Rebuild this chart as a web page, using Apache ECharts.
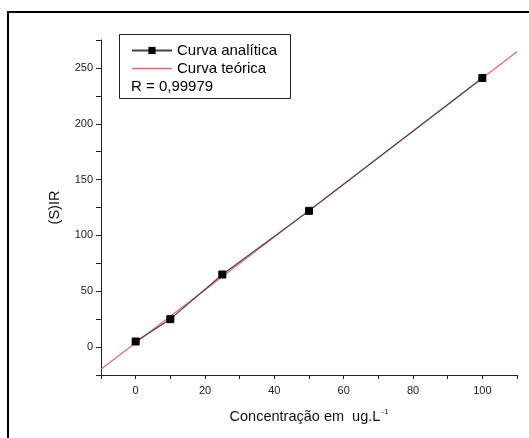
<!DOCTYPE html>
<html>
<head>
<meta charset="utf-8">
<script src="https://cdn.jsdelivr.net/npm/echarts@6/dist/echarts.min.js"></script>
<style>
  html, body { margin: 0; padding: 0; background: #fff; }
  #mychart { width: 529px; height: 438px; }
</style>
</head>
<body>
<div id="mychart"></div>
<script>
// pontos medidos (curva analítica)
var concentracao = [0, 10, 25, 50, 100];
var sinalIR = [5, 25, 65, 122, 241];
var retaX = [-10, 110];
var retaY = [-19.8, 264.5];
var rTexto = 'R = 0,99979';

var analitica = concentracao.map(function (x, i) { return [x, sinalIR[i]]; });
var teorica = retaX.map(function (x, i) { return [x, retaY[i]]; });

var fonte = '"Liberation Sans", Arial, sans-serif';
var myChart = echarts.init(document.getElementById('mychart'));

var option = {
  backgroundColor: '#fff',
  animation: false,
  grid: { left: 101, top: 40, right: 12, bottom: 63 },
  legend: {
    orient: 'vertical',
    left: 131,
    top: 42,
    itemWidth: 40,
    itemHeight: 9,
    itemGap: 1,
    padding: 0,
    textStyle: { fontFamily: fonte, fontSize: 15, color: '#000', lineHeight: 17 },
    data: [
      { name: 'Curva analítica' },
      { name: 'Curva teórica', itemStyle: { opacity: 0 }, lineStyle: { color: '#f26464', width: 1.5, opacity: 1 } }
    ]
  },
  xAxis: {
    type: 'value',
    min: -10,
    max: 110,
    interval: 10,
    name: '{a|Concentração em  ug.L}{s|-1}',
    nameLocation: 'middle',
    nameGap: 33,
    nameTextStyle: {
      rich: {
        a: { fontFamily: fonte, fontSize: 14.5, color: '#111' },
        s: { fontFamily: fonte, fontSize: 8, color: '#111', verticalAlign: 'top', padding: [0, 0, 9, 1] }
      }
    },
    splitLine: { show: false },
    axisLine: { onZero: false, lineStyle: { color: '#222', width: 1 } },
    axisTick: { length: 4, lineStyle: { color: '#222' } },
    axisLabel: {
      fontFamily: fonte, fontSize: 11, color: '#222', margin: 10,
      formatter: function (v) { return (v % 20 === 0 && v >= 0 && v <= 100) ? v : ''; }
    }
  },
  yAxis: {
    type: 'value',
    min: -25,
    max: 275,
    interval: 25,
    name: '(S)IR',
    nameLocation: 'middle',
    nameGap: 39,
    nameTextStyle: { fontFamily: fonte, fontSize: 14.5, color: '#111' },
    splitLine: { show: false },
    axisLine: { onZero: false, lineStyle: { color: '#222', width: 1 } },
    axisTick: { length: 5, lineStyle: { color: '#222' } },
    axisLabel: {
      fontFamily: fonte, fontSize: 11, color: '#222', margin: 8,
      formatter: function (v) { return (v % 50 === 0 && v >= 0 && v <= 250) ? v : ''; }
    }
  },
  series: [
    {
      name: 'Curva teórica',
      type: 'line',
      data: teorica,
      symbol: 'none',
      z: 2,
      lineStyle: { color: '#f26464', width: 1.2 },
      itemStyle: { color: '#f26464' }
    },
    {
      name: 'Curva analítica',
      type: 'line',
      data: analitica,
      symbol: 'rect',
      symbolSize: 7,
      z: 3,
      lineStyle: { color: '#444', width: 1.1 },
      itemStyle: { color: '#000', borderColor: '#000' }
    }
  ],
  graphic: [
    {
      type: 'rect',
      shape: { x: 8, y: 12, width: 540, height: 440 },
      style: { fill: 'none', stroke: '#000', lineWidth: 2 },
      silent: true
    },
    {
      type: 'rect',
      shape: { x: 119.5, y: 34.5, width: 171, height: 64 },
      style: { fill: '#fff', stroke: '#222', lineWidth: 1 },
      z: 0,
      silent: true
    },
    {
      type: 'text',
      left: 131,
      top: 79,
      style: { text: rTexto, font: '15px ' + fonte, fill: '#000' },
      z: 10
    }
  ]
};

myChart.setOption(option);
</script>
</body>
</html>
